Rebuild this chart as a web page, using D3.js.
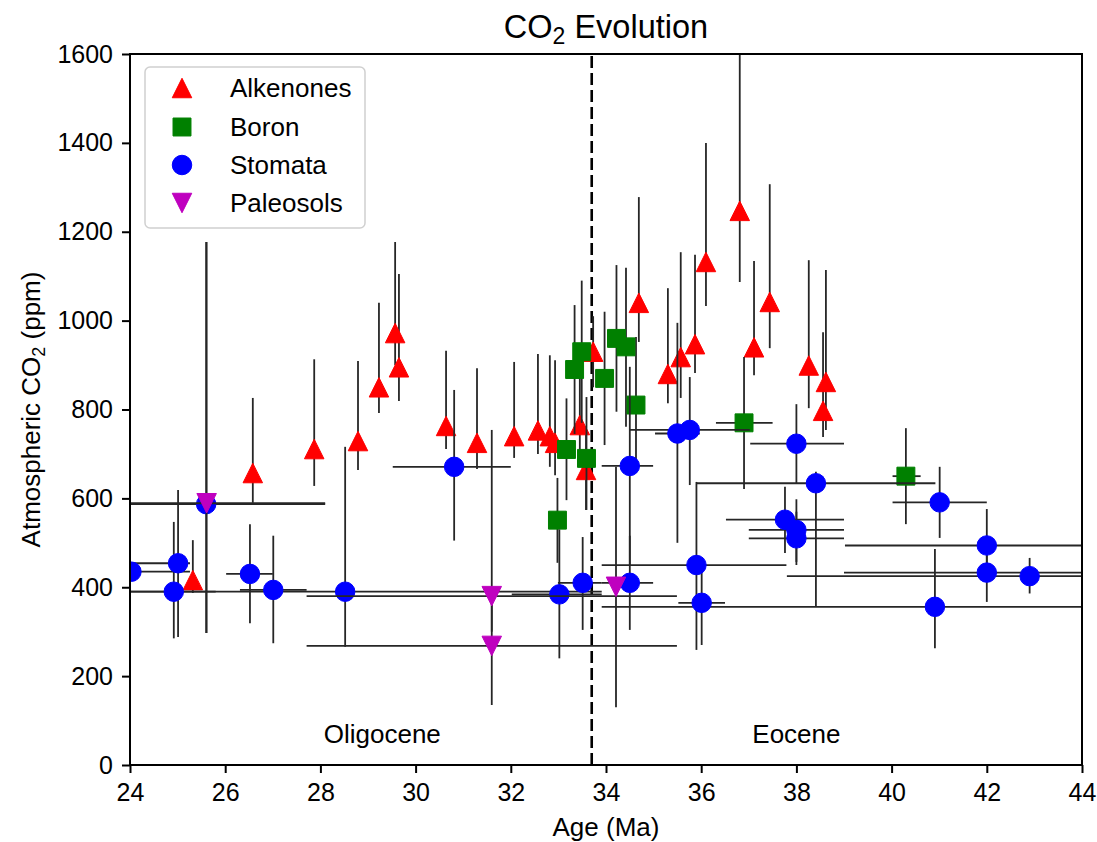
<!DOCTYPE html>
<html>
<head>
<meta charset="utf-8">
<script src="https://cdn.jsdelivr.net/npm/d3@7"></script>
<style>
  html, body { margin: 0; padding: 0; background: #fff; }
  svg { display: block; font-family: "Liberation Sans", Arial, Helvetica, sans-serif; }
</style>
</head>
<body>
<svg id="chart" width="1097" height="842"></svg>
<script>
// ---------------- DATA ----------------
const xTicks = [24, 26, 28, 30, 32, 34, 36, 38, 40, 42, 44];
const yTicks = [0, 200, 400, 600, 800, 1000, 1200, 1400, 1600];
const seriesNames = ["Alkenones", "Boron", "Stomata", "Paleosols"];
const boundaryAge = 33.7;
const periodLabels = ["Oligocene", "Eocene"];
const periodAges = [29.3, 38.0];
const periodCO2 = [50, 50];

// Alkenones
const alkAge = [25.32, 26.58, 27.87, 28.79, 29.23, 29.57, 29.65, 30.64, 31.29, 32.07, 32.57, 32.82, 32.93, 33.45, 33.58, 33.73, 34.69, 35.30, 35.57, 35.87, 36.10, 36.81, 37.11, 37.44, 38.26, 38.56, 38.62];
const alkCO2 = [416, 657, 711, 729, 850, 972, 895, 763, 725, 740, 753, 740, 725, 765, 664, 930, 1040, 880, 918, 947, 1132, 1247, 940, 1042, 899, 797, 862];
const alkLo  = [387, 590, 628, 664, 792, 900, 819, 711, 666, 691, 700, 671, 652, 690, 574, 850, 952, 814, 826, 882, 1033, 1087, 877, 938, 803, 738, 754];
const alkHi  = [506, 826, 913, 909, 1040, 1177, 1105, 932, 893, 907, 925, 922, 911, 920, 760, 1010, 1278, 1073, 1154, 1148, 1400, 1700, 1134, 1307, 1136, 974, 1114];

// Boron
const borAge = [32.98, 33.17, 33.34, 33.49, 33.59, 33.97, 34.22, 34.42, 34.63, 36.90, 40.30];
const borCO2 = [551, 710, 890, 930, 690, 870, 960, 941, 810, 770, 650];
const borLo  = [455, 596, 745, 770, 574, 720, 795, 761, 657, 621, 542];
const borHi  = [646, 825, 1035, 1090, 828, 1020, 1125, 1119, 963, 918, 758];
const borAgeLo = [null, null, null, null, null, null, null, null, null, 36.31, 40.02];
const borAgeHi = [null, null, null, null, null, null, null, null, null, 37.50, 40.61];

// Stomata
const stoAge = [24.03, 25.01, 24.92, 25.60, 26.52, 27.01, 28.52, 30.81, 33.02, 33.51, 34.50, 34.50, 35.50, 35.76, 35.90, 36.01, 37.76, 38.00, 38.00, 38.00, 38.41, 40.91, 41.01, 42.00, 42.00, 42.90];
const stoCO2 = [435, 454, 390, 587, 430, 394, 390, 671, 384, 410, 673, 410, 746, 754, 450, 365, 552, 723, 529, 510, 634, 356, 591, 494, 433, 425];
const stoLo  = [425, 288, 285, 297, 319, 274, 266, 505, 240, 304, 450, 304, 500, 630, 259, 270, 477, 634, 457, 450, 356, 263, 511, 412, 367, 386];
const stoHi  = [445, 619, 547, 1177, 542, 516, 716, 844, 530, 513, 896, 516, 995, 873, 637, 460, 626, 812, 598, 570, 660, 486, 671, 576, 500, 466];
const stoAgeLo = [22.80, 23.80, 24.00, 23.10, 26.02, 26.31, 23.13, 29.52, 32.02, 32.99, 33.91, 33.91, 35.03, 34.50, 33.91, 35.52, 36.52, 37.03, 37.00, 37.00, 35.90, 33.91, 40.02, 39.02, 39.00, 37.80];
const stoAgeHi = [25.26, 25.26, 25.80, 28.10, 27.00, 27.71, 33.91, 32.00, 33.91, 33.91, 34.99, 34.99, 35.97, 37.02, 37.79, 36.50, 39.00, 39.00, 39.00, 39.00, 40.92, 47.90, 42.00, 45.00, 45.00, 48.00];

// Paleosols
const palAge = [25.61, 31.60, 31.60, 34.21];
const palCO2 = [589, 380, 268, 401];
const palLo  = [297, 300, 135, 130];
const palHi  = [1177, 754, 390, 671];
const palAgeLo = [23.10, 27.71, 27.71, null];
const palAgeHi = [28.10, 35.49, 35.49, null];

// ---------------- CHART ----------------
const svg = d3.select("#chart");
const L = 130, R = 1082, T = 54, B = 765;
const x = d3.scaleLinear().domain([24, 44]).range([L, R]);
const y = d3.scaleLinear().domain([0, 1600]).range([B, T]);

const colors = { Alkenones: "#ff0000", Boron: "#008000", Stomata: "#0000ff", Paleosols: "#bf00bf" };
const shapes = { Alkenones: "up", Boron: "square", Stomata: "circle", Paleosols: "down" };
const MS = 19.5;

function build(ages, co2, lo, hi, aLo, aHi, name) {
  return ages.map((a, i) => ({
    name, age: a, co2: co2[i], lo: lo[i], hi: hi[i],
    aLo: aLo ? aLo[i] : null, aHi: aHi ? aHi[i] : null
  }));
}
const series = [
  build(alkAge, alkCO2, alkLo, alkHi, null, null, "Alkenones"),
  build(borAge, borCO2, borLo, borHi, borAgeLo, borAgeHi, "Boron"),
  build(stoAge, stoCO2, stoLo, stoHi, stoAgeLo, stoAgeHi, "Stomata"),
  build(palAge, palCO2, palLo, palHi, palAgeLo, palAgeHi, "Paleosols")
];

svg.append("defs").append("clipPath").attr("id", "plotclip")
  .append("rect").attr("x", L).attr("y", T).attr("width", R - L).attr("height", B - T);

const plot = svg.append("g").attr("clip-path", "url(#plotclip)");

// dashed boundary
plot.append("line")
  .attr("x1", x(boundaryAge)).attr("x2", x(boundaryAge))
  .attr("y1", y(0)).attr("y2", y(1600))
  .attr("stroke", "#000").attr("stroke-width", 2.6)
  .attr("stroke-dasharray", "12,5");

function markerPath(shape, s) {
  const h = s / 2;
  if (shape === "up") return `M0,${-h}L${h},${h}L${-h},${h}Z`;
  if (shape === "down") return `M0,${h}L${h},${-h}L${-h},${-h}Z`;
  if (shape === "square") { const q = s * 0.46; return `M${-q},${-q}H${q}V${q}H${-q}Z`; }
  return d3.symbol().type(d3.symbolCircle).size(Math.PI * (s / 2) * (s / 2))();
}

const ebColor = "#262626", ebW = 1.8;
series.forEach(ser => {
  const g = plot.append("g");
  ser.forEach(d => {
    g.append("line")
      .attr("x1", x(d.age)).attr("x2", x(d.age))
      .attr("y1", y(d.lo)).attr("y2", y(d.hi))
      .attr("stroke", ebColor).attr("stroke-width", ebW);
    if (d.aLo != null) {
      g.append("line")
        .attr("x1", x(d.aLo)).attr("x2", x(d.aHi))
        .attr("y1", y(d.co2)).attr("y2", y(d.co2))
        .attr("stroke", ebColor).attr("stroke-width", ebW);
    }
  });
  g.selectAll("path.mk").data(ser).join("path")
    .attr("class", "mk")
    .attr("d", d => markerPath(shapes[d.name], MS))
    .attr("transform", d => `translate(${x(d.age)},${y(d.co2)})`)
    .attr("fill", d => colors[d.name])
    .attr("stroke", d => colors[d.name]).attr("stroke-width", 1);
});

// period labels
periodLabels.forEach((t, i) => {
  svg.append("text")
    .attr("x", x(periodAges[i])).attr("y", y(periodCO2[i]))
    .attr("text-anchor", "middle").attr("font-size", 26).attr("fill", "#000")
    .text(t);
});

// axes
const xAxis = svg.append("g").attr("transform", `translate(0,${B})`)
  .call(d3.axisBottom(x).tickValues(xTicks).tickSize(8).tickPadding(8).tickFormat(d3.format("d")));
const yAxis = svg.append("g").attr("transform", `translate(${L},0)`)
  .call(d3.axisLeft(y).tickValues(yTicks).tickSize(8).tickPadding(9).tickFormat(d3.format("d")));
[xAxis, yAxis].forEach(a => {
  a.select(".domain").remove();
  a.selectAll(".tick line").attr("stroke", "#000").attr("stroke-width", 2);
  a.selectAll(".tick text").attr("font-size", 25).attr("fill", "#000")
    .attr("font-family", "Liberation Sans, Arial, sans-serif");
});
xAxis.selectAll(".tick text").attr("dy", "0.78em");

// frame
svg.append("rect").attr("x", L).attr("y", T).attr("width", R - L).attr("height", B - T)
  .attr("fill", "none").attr("stroke", "#000").attr("stroke-width", 2);

// title
const title = svg.append("text").attr("x", (L + R) / 2).attr("y", 38)
  .attr("text-anchor", "middle").attr("font-size", 32.5);
title.append("tspan").text("CO");
title.append("tspan").attr("font-size", 23).attr("dy", 6).text("2");
title.append("tspan").attr("dy", -6).text(" Evolution");

// x label
svg.append("text").attr("x", (L + R) / 2).attr("y", 836)
  .attr("text-anchor", "middle").attr("font-size", 26).text("Age (Ma)");

// y label
const yl = svg.append("text").attr("transform", `translate(40,${(T + B) / 2}) rotate(-90)`)
  .attr("text-anchor", "middle").attr("font-size", 26);
yl.append("tspan").text("Atmospheric CO");
yl.append("tspan").attr("font-size", 18).attr("dy", 5).text("2");
yl.append("tspan").attr("dy", -5).text(" (ppm)");

// legend
const lg = svg.append("g");
lg.append("rect").attr("x", 145).attr("y", 67).attr("width", 220).attr("height", 161)
  .attr("rx", 5).attr("fill", "#fff").attr("fill-opacity", 0.8)
  .attr("stroke", "#d0d0d0").attr("stroke-width", 1.5);
const legY = [88, 127, 165, 203];
seriesNames.forEach((n, i) => {
  lg.append("path").attr("d", markerPath(shapes[n], MS))
    .attr("transform", `translate(182,${legY[i]})`)
    .attr("fill", colors[n]).attr("stroke", colors[n]).attr("stroke-width", 1);
  lg.append("text").attr("x", 230).attr("y", legY[i]).attr("dy", "0.36em")
    .attr("font-size", 26).text(n);
});
</script>
</body>
</html>
